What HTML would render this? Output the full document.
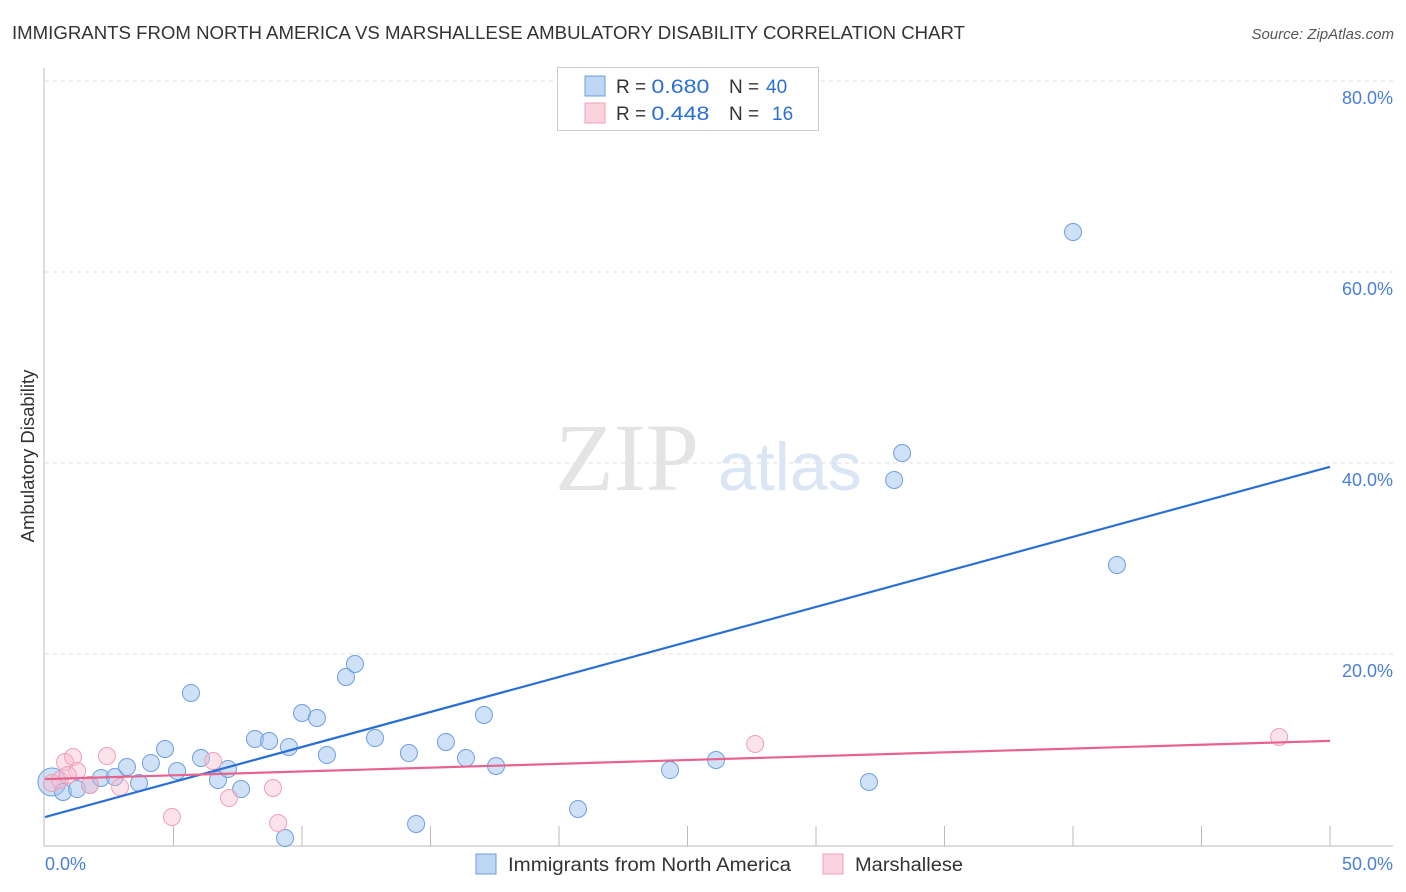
<!DOCTYPE html>
<html><head><meta charset="utf-8"><style>
body{margin:0;background:#fff;font-family:"Liberation Sans",sans-serif;}
#c{position:relative;width:1406px;height:892px;overflow:hidden}
</style></head><body>
<div id="c">
<svg id="s" width="1406" height="892"></svg>
</div>
<script>
const xTicks=[0,5,10,15,20,25,30,35,40,45,50];
const yTicks=[20,40,60,80];
const yTickLabels=["20.0%","40.0%","60.0%","80.0%"];
const blueX=[0.27,0.70,1.25,1.75,2.18,2.72,3.19,3.66,4.12,4.67,5.14,5.68,6.07,6.73,7.12,7.63,8.17,8.72,9.49,9.34,10.00,10.58,10.97,11.71,12.06,12.84,14.16,14.44,15.60,16.38,17.08,17.55,20.74,24.32,26.11,32.06,33.04,33.35,40.00,41.71];
const blueY=[6.6,5.55,5.86,6.28,7.02,7.12,8.17,6.49,8.59,10.05,7.75,15.92,9.11,6.81,7.96,5.86,11.10,10.89,10.26,0.73,13.82,13.30,9.42,17.59,18.95,11.20,9.63,2.20,10.79,9.11,13.61,8.27,3.77,7.85,8.90,6.60,38.22,41.05,64.19,29.32];
const pinkX=[0.27,0.58,0.78,1.09,1.25,1.75,2.41,2.92,4.94,6.54,7.16,8.87,9.07,27.63,48.02,0.89];
const pinkY=[6.49,6.81,8.69,9.21,7.75,6.28,9.32,6.07,2.93,8.80,4.92,5.97,2.30,10.58,11.31,7.33];
const blueLine=[2.93,39.6];
const pinkLine=[6.9,10.9];
const X=v=>45+v*25.7, Y=v=>845-v*9.55;
const s=document.getElementById('s');const NS='http://www.w3.org/2000/svg';
function el(t,a,txt){const e=document.createElementNS(NS,t);for(const k in a)e.setAttribute(k,a[k]);if(txt!==undefined)e.textContent=txt;s.appendChild(e);return e;}
let e;
e=el('text',{x:12,y:39,'font-size':18,fill:'#333',textLength:953,lengthAdjust:'spacingAndGlyphs'},'IMMIGRANTS FROM NORTH AMERICA VS MARSHALLESE AMBULATORY DISABILITY CORRELATION CHART');

e=el('text',{x:1394,y:39,'font-size':15,fill:'#555','font-style':'italic','text-anchor':'end'},'Source: ZipAtlas.com');

yTicks.forEach((t,i)=>{
 e=el('line',{x1:45,x2:1393,y1:Y(t),y2:Y(t),stroke:'#ddd','stroke-dasharray':'4,4'});
 
 e=el('text',{x:1393,y:Y(t)+23,'font-size':18,fill:'#4a7fd8','text-anchor':'end'},yTickLabels[i]);
 
});
e=el('line',{x1:44,x2:44,y1:68,y2:846,stroke:'#bbb'});
e=el('line',{x1:44,x2:1393,y1:846,y2:846,stroke:'#bbb'});
xTicks.forEach(t=>{if(t===0)return;e=el('line',{x1:X(t),x2:X(t),y1:826,y2:846,stroke:'#bbb'});});
e=el('text',{x:45,y:870,'font-size':18,fill:'#4a7fd8'},'0.0%');
e=el('text',{x:1393,y:870,'font-size':18,fill:'#4a7fd8','text-anchor':'end'},'50.0%');
e=el('text',{x:34,y:456,'font-size':18.5,fill:'#333','text-anchor':'middle',transform:'rotate(-90 34 456)'},'Ambulatory Disability');

e=el('text',{x:555,y:490,'font-size':96,fill:'#e4e4e4','font-family':'Liberation Serif'},'ZIP');
e=el('text',{x:718,y:490,'font-size':68,fill:'#dbe6f5'},'atlas');
blueX.forEach((v,i)=>{e=el('circle',{cx:X(v),cy:Y(blueY[i]),r:i===0?14:8.5,fill:'rgba(160,196,240,0.5)',stroke:'#6d9fe0','stroke-width':1});});
pinkX.forEach((v,i)=>{e=el('circle',{cx:X(v),cy:Y(pinkY[i]),r:8.5,fill:'rgba(248,182,202,0.4)',stroke:'#f0a0b8','stroke-width':1});});
e=el('line',{x1:X(0),y1:Y(blueLine[0]),x2:X(50),y2:Y(blueLine[1]),stroke:'#2a6fd6','stroke-width':2.2});
e=el('line',{x1:X(0),y1:Y(pinkLine[0]),x2:X(50),y2:Y(pinkLine[1]),stroke:'#e8628e','stroke-width':2.2});
e=el('rect',{x:557.5,y:67.5,width:261,height:63,fill:'#fff',stroke:'#ccc'});
[['R = ','0.680','40','rgba(160,196,240,0.7)','#6d9fe0',86],['R = ','0.448','16','rgba(248,182,202,0.6)','#f0a0b8',113]].forEach(r=>{
 e=el('rect',{x:585,y:r[5]-10,width:20,height:20,fill:r[3],stroke:r[4]});
 e=el('text',{x:616,y:r[5]+7,'font-size':19,fill:'#333'},'');
 e.innerHTML='R = <tspan fill="#2a6fd6" textLength="58" lengthAdjust="spacingAndGlyphs">'+r[1]+'</tspan><tspan x="729">N = </tspan><tspan x="'+(r[2]==='16'?772:766)+'" fill="#2a6fd6">'+r[2]+'</tspan>';
});
[['Immigrants from North America',476,'rgba(160,196,240,0.7)','#6d9fe0',283],['Marshallese',823,'rgba(248,182,202,0.6)','#f0a0b8',108]].forEach(l=>{
 e=el('rect',{x:l[1],y:854,width:20,height:20,fill:l[2],stroke:l[3]});
 e=el('text',{x:l[1]+32,y:871,'font-size':19,fill:'#333',textLength:l[4],lengthAdjust:'spacingAndGlyphs'},l[0]);
});
</script>
</body></html>
